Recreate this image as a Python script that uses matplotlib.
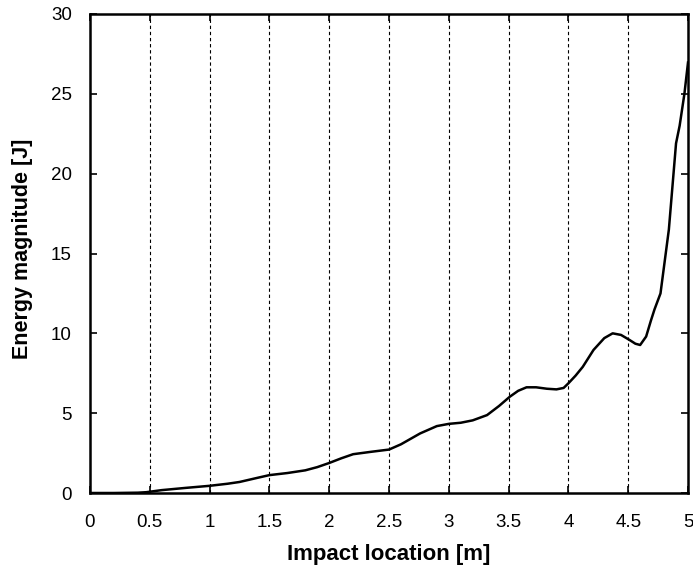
import numpy as np
import matplotlib.pyplot as plt

plt.rcParams['font.family'] = ['Liberation Sans', 'DejaVu Sans']

# impact location [m] and energy magnitude [J]
location = [0.0, 0.2, 0.4, 0.47, 0.6, 0.8, 1.0, 1.15, 1.25, 1.4, 1.5, 1.65,
            1.8, 1.9, 2.0, 2.1, 2.2, 2.35, 2.5, 2.6, 2.76, 2.9, 3.0, 3.1,
            3.2, 3.32, 3.42, 3.51, 3.58, 3.65, 3.73, 3.82, 3.9, 3.96, 4.0,
            4.06, 4.12, 4.21, 4.3, 4.37, 4.44, 4.51, 4.56, 4.6, 4.65, 4.69,
            4.72, 4.77, 4.84, 4.9, 4.93, 4.97, 5.0]
energy = [0.0, 0.0, 0.02, 0.05, 0.18, 0.32, 0.45, 0.58, 0.69, 0.95, 1.12, 1.25,
          1.42, 1.62, 1.88, 2.17, 2.43, 2.58, 2.72, 3.05, 3.73, 4.19, 4.33, 4.4,
          4.55, 4.88, 5.45, 6.03, 6.4, 6.62, 6.62, 6.53, 6.49, 6.58, 6.87,
          7.35, 7.9, 8.96, 9.7, 10.0, 9.9, 9.59, 9.35, 9.27, 9.8, 10.8,
          11.5, 12.5, 16.5, 21.9, 23.0, 25.0, 26.96]

xticks = [0, 0.5, 1, 1.5, 2, 2.5, 3, 3.5, 4, 4.5, 5]
xticklabels = ['0', '0.5', '1', '1.5', '2', '2.5', '3', '3.5', '4', '4.5', '5']
yticks = [0, 5, 10, 15, 20, 25, 30]

fig = plt.figure(figsize=(6.93, 5.69), dpi=100)
ax = fig.add_axes([90 / 693, 1 - 493 / 569, 598 / 693, 479 / 569])

ax.plot(location, energy, color='black', linewidth=1.8)

ax.set_xlim(0, 5)
ax.set_ylim(0, 30)
ax.set_xticks(xticks)
ax.set_xticklabels(xticklabels)
ax.set_yticks(yticks)

# vertical dotted grid only
for xv in xticks[1:-1]:
    ax.axvline(xv, color='black', linewidth=0.8, linestyle=(0, (3, 2.5)), zorder=0)

ax.tick_params(direction='in', length=5, width=1.2, top=True, right=True,
               labelsize=13.5)
ax.tick_params(axis='x', pad=15)
ax.tick_params(axis='y', pad=13)
for s in ax.spines.values():
    s.set_linewidth(1.8)

ax.set_xlabel('Impact location [m]', fontsize=16, fontweight='bold')
ax.set_ylabel('Energy magnitude [J]', fontsize=15.5, fontweight='bold')
ax.xaxis.set_label_coords(0.5, -(547 - 493 - 3) / 479, transform=ax.transAxes)
ax.xaxis.label.set_va('top')
ax.yaxis.set_label_coords(-(90 - 12) / 598, 0.51)
ax.yaxis.label.set_va('top')

fig.savefig('out.png', dpi=100)
